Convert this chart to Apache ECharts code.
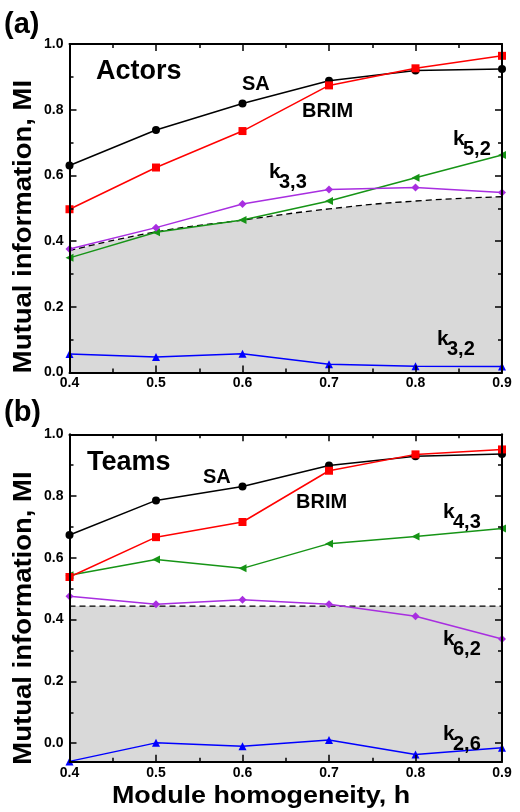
<!DOCTYPE html>
<html>
<head>
<meta charset="utf-8">
<script src="https://cdn.jsdelivr.net/npm/echarts@6/dist/echarts.min.js"></script>
<style>
  html, body { margin: 0; padding: 0; background: #fff; }
  #panelA { width: 520px; height: 395px; }
  #panelB { width: 520px; height: 417px; }
</style>
</head>
<body>
<div id="panelA"></div>
<div id="panelB"></div>
<script>
// module homogeneity h (shared x values)
const hVals = [0.4, 0.5, 0.6, 0.7, 0.8, 0.9];

// panel (a) Actors
const aSA = [0.630, 0.738, 0.819, 0.888, 0.919, 0.924];
const aBRIM = [0.497, 0.624, 0.735, 0.874, 0.926, 0.964];
const aK52 = [0.349, 0.427, 0.464, 0.522, 0.593, 0.662];
const aK33 = [0.376, 0.441, 0.513, 0.557, 0.563, 0.548];
const aK32 = [0.056, 0.047, 0.057, 0.025, 0.019, 0.018];
const aThreshold = [0.371, 0.428, 0.464, 0.498, 0.522, 0.535];

// panel (b) Teams
const bSA = [0.674, 0.786, 0.831, 0.899, 0.929, 0.936];
const bBRIM = [0.538, 0.667, 0.716, 0.882, 0.935, 0.951];
const bK43 = [0.544, 0.595, 0.566, 0.646, 0.669, 0.695];
const bK62 = [0.476, 0.450, 0.464, 0.450, 0.411, 0.337];
const bK26 = [-0.059, 0.001, -0.010, 0.010, -0.037, -0.015];
const bThreshold = [0.444, 0.444, 0.444, 0.444, 0.444, 0.444];

const FONT = '"Liberation Sans", Arial, sans-serif';
const GREEN = '#169416';
const PURPLE = '#a82ee0';
const toPairs = ys => hVals.map((h, i) => [h, ys[i]]);

const tickLabel = () => ({ fontFamily: FONT, fontWeight: 'bold', fontSize: 14, color: '#000' });
const axisParts = () => ({
  z: 10,
  splitLine: { show: false },
  axisLine: { show: true, onZero: false, lineStyle: { color: '#000', width: 2 } },
  axisTick: { show: true, inside: true, length: 7, lineStyle: { color: '#000', width: 1.5 } },
  minorTick: { show: true, splitNumber: 2, length: 4, lineStyle: { color: '#000', width: 1.5 } }
});

function xAxes() {
  const scale = { type: 'value', min: 0.4, max: 0.9, interval: 0.1 };
  return [
    Object.assign({}, scale, axisParts(), {
      position: 'bottom',
      axisLabel: Object.assign({ margin: 4, formatter: v => v.toFixed(1) }, tickLabel())
    }),
    Object.assign({}, scale, axisParts(), { position: 'top', axisLabel: { show: false } })
  ];
}

function yAxes(scale) {
  return [
    Object.assign({ type: 'value' }, scale, axisParts(), {
      position: 'left',
      axisLabel: Object.assign({ margin: 6, showMinLabel: scale.min === 0, formatter: v => v.toFixed(1) }, tickLabel())
    }),
    Object.assign({ type: 'value' }, scale, axisParts(), { position: 'right', axisLabel: { show: false } })
  ];
}

function lineSeries(ys, color, symbol, extra) {
  return Object.assign({
    type: 'line',
    data: toPairs(ys),
    symbol: symbol,
    symbolSize: 8,
    showAllSymbol: true,
    clip: false,
    lineStyle: { color: color, width: 1.5 },
    itemStyle: { color: color },
    emphasis: { disabled: true },
    z: 5
  }, extra || {});
}

function thresholdSeries(ys, smooth) {
  return {
    type: 'line',
    data: toPairs(ys),
    symbol: 'none',
    smooth: smooth,
    lineStyle: { color: '#000', width: 1.3, type: [6, 4] },
    areaStyle: { color: '#d9d9d9', opacity: 1, origin: 'start' },
    z: 1
  };
}

function kLabel(x, y, sub) {
  return [
    { type: 'text', z: 100, style: { text: 'k', x: x, y: y, font: 'bold 21px ' + FONT, fill: '#000', verticalAlign: 'top' } },
    { type: 'text', z: 100, style: { text: sub, x: x + 10, y: y + 10, font: 'bold 20px ' + FONT, fill: '#000', verticalAlign: 'top' } }
  ];
}

function txt(text, x, y, size) {
  return { type: 'text', z: 100, style: { text: text, x: x, y: y, font: 'bold ' + size + 'px ' + FONT, fill: '#000', verticalAlign: 'middle' } };
}

function yTitle(cy) {
  return {
    type: 'text', z: 100, x: 24, y: cy, rotation: Math.PI / 2, scaleX: 1.1,
    style: { text: 'Mutual information, MI', font: 'bold 25px ' + FONT, fill: '#000', align: 'center', verticalAlign: 'middle' }
  };
}

// panel (a): Actors
const chartA = echarts.init(document.getElementById('panelA'));
chartA.setOption({
  animation: false,
  backgroundColor: '#fff',
  grid: { left: 69.5, right: 18, top: 44, height: 328.5 },
  xAxis: xAxes(),
  yAxis: yAxes({ min: 0, max: 1, interval: 0.2 }),
  series: [
    thresholdSeries(aThreshold, true),
    lineSeries(aK32, '#0000ff', 'triangle'),
    lineSeries(aK52, GREEN, 'triangle', { symbolRotate: 90 }),
    lineSeries(aK33, PURPLE, 'diamond'),
    lineSeries(aSA, '#000', 'circle'),
    lineSeries(aBRIM, '#ff0000', 'rect')
  ],
  graphic: [
    txt('(a)', 4, 25, 29),
    txt('Actors', 96, 72, 27),
    txt('SA', 242, 84, 20),
    txt('BRIM', 302, 111, 20),
    ...kLabel(453, 129, '5,2'),
    ...kLabel(269, 162, '3,3'),
    ...kLabel(437, 329, '3,2'),
    yTitle(226.5)
  ]
});

// panel (b): Teams, its y axis starts a little below zero
const chartB = echarts.init(document.getElementById('panelB'));
chartB.setOption({
  animation: false,
  backgroundColor: '#fff',
  grid: { left: 69.5, right: 18, top: 39.3, height: 327.4 },
  xAxis: xAxes(),
  yAxis: yAxes({ min: -0.06, max: 1, splitNumber: 5 }),
  series: [
    thresholdSeries(bThreshold, false),
    lineSeries(bK26, '#0000ff', 'triangle'),
    lineSeries(bK43, GREEN, 'triangle', { symbolRotate: 90 }),
    lineSeries(bK62, PURPLE, 'diamond'),
    lineSeries(bSA, '#000', 'circle'),
    lineSeries(bBRIM, '#ff0000', 'rect')
  ],
  graphic: [
    txt('(b)', 4, 18, 29),
    txt('Teams', 87, 68, 27),
    txt('SA', 203, 82, 20),
    txt('BRIM', 296, 107, 20),
    ...kLabel(443, 107, '4,3'),
    ...kLabel(443, 234, '6,2'),
    ...kLabel(443, 329, '2,6'),
    yTitle(223),
    {
      type: 'text', z: 100, x: 261, y: 401, scaleX: 1.12,
      style: { text: 'Module homogeneity, h', font: 'bold 24px ' + FONT, fill: '#000', align: 'center', verticalAlign: 'middle' }
    }
  ]
});
</script>
</body>
</html>
